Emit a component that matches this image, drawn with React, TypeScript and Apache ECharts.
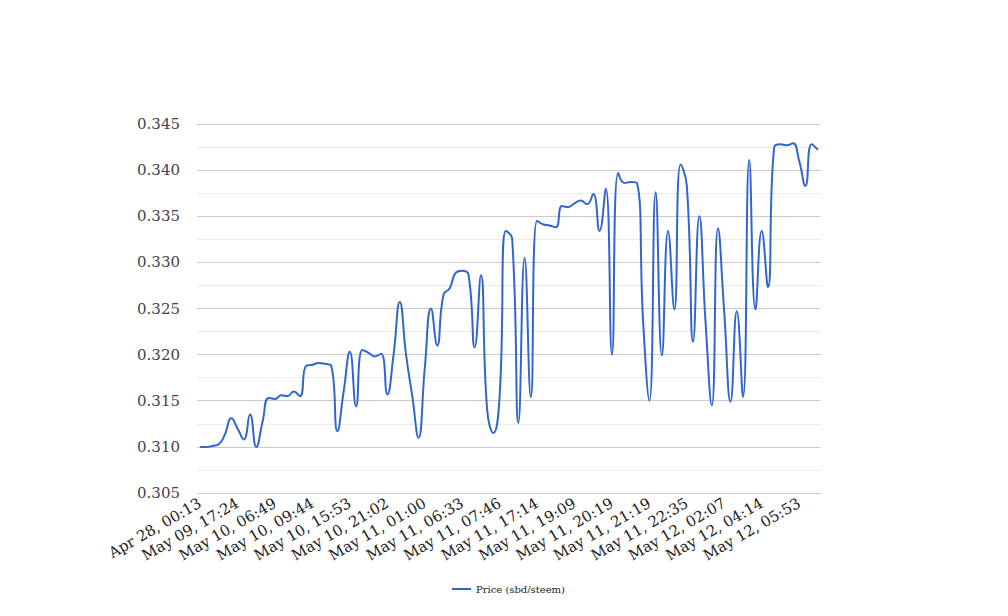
import React, { useEffect, useRef } from "react";
import * as echarts from "echarts";

const categories: string[] = [
  "Apr 28, 00:13", "May 01, 08:40", "May 03, 14:02", "May 05, 11:27", "May 07, 03:55", "May 08, 19:31",
  "May 09, 17:24", "May 09, 21:10", "May 10, 00:48", "May 10, 02:15", "May 10, 04:03", "May 10, 05:36",
  "May 10, 06:49", "May 10, 07:12", "May 10, 07:40", "May 10, 08:05", "May 10, 08:37", "May 10, 09:15",
  "May 10, 09:44", "May 10, 10:31", "May 10, 11:48", "May 10, 12:56", "May 10, 13:49", "May 10, 14:44",
  "May 10, 15:53", "May 10, 16:40", "May 10, 17:28", "May 10, 18:21", "May 10, 19:10", "May 10, 20:05",
  "May 10, 21:02", "May 10, 21:45", "May 10, 22:30", "May 10, 23:02", "May 10, 23:41", "May 11, 00:19",
  "May 11, 01:00", "May 11, 01:52", "May 11, 02:48", "May 11, 03:37", "May 11, 04:29", "May 11, 05:34",
  "May 11, 06:33", "May 11, 06:45", "May 11, 06:58", "May 11, 07:10", "May 11, 07:22", "May 11, 07:34",
  "May 11, 07:46", "May 11, 09:20", "May 11, 11:05", "May 11, 12:47", "May 11, 14:30", "May 11, 15:52",
  "May 11, 17:14", "May 11, 17:35", "May 11, 17:58", "May 11, 18:17", "May 11, 18:36", "May 11, 18:52",
  "May 11, 19:09", "May 11, 19:21", "May 11, 19:33", "May 11, 19:45", "May 11, 19:56", "May 11, 20:08",
  "May 11, 20:19", "May 11, 20:29", "May 11, 20:39", "May 11, 20:49", "May 11, 20:59", "May 11, 21:09",
  "May 11, 21:19", "May 11, 21:31", "May 11, 21:44", "May 11, 21:57", "May 11, 22:09", "May 11, 22:22",
  "May 11, 22:35", "May 11, 23:10", "May 11, 23:46", "May 12, 00:21", "May 12, 00:57", "May 12, 01:32",
  "May 12, 02:07", "May 12, 02:28", "May 12, 02:49", "May 12, 03:10", "May 12, 03:32", "May 12, 03:53",
  "May 12, 04:14", "May 12, 04:31", "May 12, 04:47", "May 12, 05:04", "May 12, 05:20", "May 12, 05:37",
  "May 12, 05:53", "May 12, 06:09", "May 12, 06:25", "May 12, 06:41",
];

const priceValues: number[] = [
  0.3100, 0.3100, 0.3101, 0.3103, 0.3114, 0.3131, 0.3120, 0.3108, 0.3135, 0.3100,
  0.3127, 0.3153, 0.3152, 0.3156, 0.3155, 0.3160, 0.3155, 0.3188, 0.3189, 0.3191,
  0.3190, 0.3188, 0.3117, 0.3160, 0.3203, 0.3144, 0.3205, 0.3202, 0.3198, 0.3201,
  0.3157, 0.3200, 0.3257, 0.3200, 0.3155, 0.3110, 0.3185, 0.3250, 0.3210, 0.3265,
  0.3272, 0.3289, 0.3291, 0.3287, 0.3208, 0.3286, 0.3140, 0.3115, 0.3155, 0.3334,
  0.3326, 0.3126, 0.3305, 0.3154, 0.3345, 0.3341, 0.3340, 0.3338, 0.3361, 0.3360,
  0.3364, 0.3367, 0.3363, 0.3374, 0.3334, 0.3380, 0.3200, 0.3397, 0.3386, 0.3387,
  0.3386, 0.3235, 0.3150, 0.3376, 0.3199, 0.3334, 0.3249, 0.3406, 0.3383, 0.3214,
  0.3350, 0.3235, 0.3145, 0.3337, 0.3245, 0.3149, 0.3247, 0.3154, 0.3411, 0.3249,
  0.3334, 0.3273, 0.3425, 0.3428, 0.3427, 0.3429, 0.3410, 0.3383, 0.3428, 0.3422,
];

const seriesName = "Price (sbd/steem)";
const yMin = 0.305;
const yMax = 0.345;
const yStep = 0.005;

export default function App() {
  const ref = useRef<HTMLDivElement>(null);
  useEffect(() => {
    if (!ref.current) return;
    const chart = echarts.init(ref.current, null, { renderer: "svg" });
    chart.setOption({
      animation: false,
      backgroundColor: "#ffffff",
      grid: { left: 197, right: 187, top: 124, bottom: 123, containLabel: false },
      legend: {
        data: [{ name: seriesName, icon: "rect" }],
        left: 452,
        top: 584,
        padding: 0,
        itemWidth: 19,
        itemHeight: 2,
        itemGap: 6,
        textStyle: { fontFamily: "DejaVu Serif", fontSize: 10, color: "#222" },
      },
      xAxis: {
        type: "category",
        data: categories,
        boundaryGap: true,
        axisLine: { show: false },
        axisTick: { show: false },
        splitLine: { show: false },
        axisLabel: {
          interval: 5,
          rotate: 30,
          margin: 9,
          fontFamily: "DejaVu Serif",
          fontSize: 15,
          color: "#222",
        },
      },
      yAxis: {
        type: "value",
        min: yMin,
        max: yMax,
        interval: yStep,
        axisLine: { show: false },
        axisTick: { show: false },
        axisLabel: {
          margin: 17,
          fontFamily: "DejaVu Serif",
          fontSize: 15,
          color: "#444",
          formatter: (v: number) => v.toFixed(3),
        },
        splitLine: { show: true, lineStyle: { color: "#cccccc", width: 1 } },
        minorTick: { show: false, splitNumber: 2 },
        minorSplitLine: { show: true, lineStyle: { color: "#ebebeb", width: 1 } },
      },
      series: [
        {
          name: seriesName,
          type: "line",
          data: priceValues,
          smooth: 0.5,
          showSymbol: false,
          symbol: "none",
          lineStyle: { color: "#3366cc", width: 2 },
          itemStyle: { color: "#3366cc" },
        },
      ],
    });
    return () => chart.dispose();
  }, []);
  return (
    <div
      ref={ref}
      style={{ position: "absolute", left: 0, top: 0, width: 1008, height: 616 }}
    />
  );
}
